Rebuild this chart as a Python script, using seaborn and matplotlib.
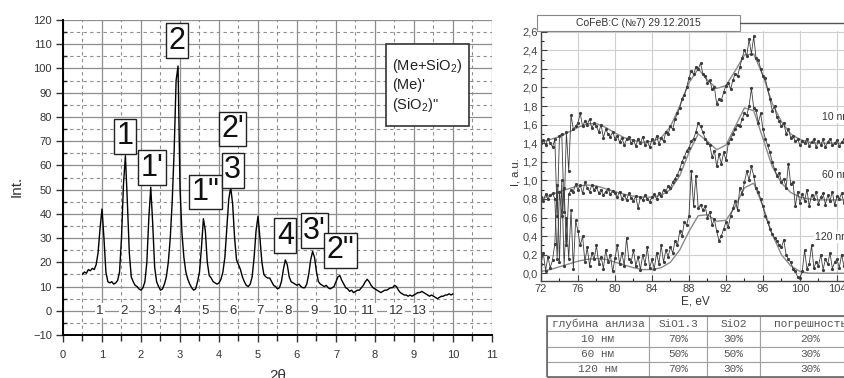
import numpy as np
import seaborn as sns
import matplotlib.pyplot as plt
from matplotlib.patches import Rectangle
from matplotlib.lines import Line2D
from matplotlib.ticker import MultipleLocator, FuncFormatter

# ---------------- left panel: diffraction pattern (2theta step 0.05, 0.50 .. 10.00)
two_theta = np.round(np.arange(0.50, 10.001, 0.05), 2)
intensity = [
    15, 16, 15.5, 17, 16.5, 17.5, 17, 19, 24, 34,
    42, 30, 16, 12, 11.5, 12, 11, 11.5, 12.5, 16,
    30, 52, 64, 45, 24, 14, 12, 10.5, 10, 9,
    8.5, 9.5, 12, 20, 38, 51, 36, 18, 12, 10,
    8.5, 9, 11, 14, 20, 30, 45, 66, 95, 101,
    51, 32, 22, 16, 13, 11, 9.5, 8.5, 9, 12,
    16, 26, 38, 33, 20, 14.5, 13.5, 12, 11.5, 11,
    11.5, 13, 16, 22, 34, 46, 51, 44, 30, 21,
    19, 17, 14, 12, 10.5, 10, 11, 14, 22, 33,
    39, 30, 20, 15, 14, 13.5, 13.5, 12, 10.5, 10,
    9, 9.5, 12, 17, 21, 19, 14, 12, 11.5, 11,
    10.5, 11, 10, 9.5, 9.5, 11, 15, 21, 24.5, 22,
    16, 12, 11, 10.5, 10, 10.5, 9.5, 9, 9.5, 10,
    12, 14, 14.5, 12.5, 11, 9.5, 9, 8, 8.5, 7.5,
    8, 8.5, 8.5, 9.5, 10.5, 12, 13, 12, 10.5, 9.5,
    9, 8.5, 8, 7.5, 8, 8.5, 8.5, 9, 9.5, 9.5,
    10.5, 10, 8.5, 7.5, 7, 6.5, 6.5, 6, 6.5, 6,
    6.5, 7, 7.5, 7.5, 8, 7.5, 7, 6.5, 6, 6.5,
    6, 5.5, 5, 5.5, 6, 6, 6.5, 6.5, 7, 6.5,
    7,
]

peak_num_lbl = [str(i) for i in range(1, 14)]
peak_num_x = [0.95, 1.56, 2.26, 2.92, 3.64, 4.36, 5.05, 5.77, 6.44, 7.10, 7.82, 8.54, 9.15]

tag_text = ["1", "1'", "2", '1"', "2'", "3", "4", "3'", '2"']
tag_x = [1.59, 2.29, 2.92, 3.65, 4.35, 4.35, 5.70, 6.45, 7.12]
tag_y = [72, 59, 111.5, 49, 75, 58, 31, 33, 25]

legend_lines = ["(Me+SiO$_2$)", "(Me)'", '(SiO$_2$)"']

# ---------------- right panel: spectra (E step 0.25 eV, 72 .. 106)
energy = np.round(np.arange(72.0, 106.001, 0.25), 2)
i_10nm = [
    1.40, 1.43, 1.38, 1.45, 1.40, 1.36, 1.44, 0.62,
    1.48, 1.50, 0.66, 1.52, 1.10, 1.70, 1.55, 1.58,
    1.62, 1.72, 1.58, 1.64, 1.60, 1.66, 1.56, 1.62,
    1.58, 1.52, 1.60, 1.46, 1.55, 1.50, 1.47, 1.52,
    1.45, 1.48, 1.41, 1.46, 1.38, 1.44, 1.47, 1.40,
    1.43, 1.37, 1.45, 1.40, 1.47, 1.38, 1.42, 1.36,
    1.44, 1.40, 1.48, 1.39, 1.46, 1.42, 1.52, 1.50,
    1.58, 1.55, 1.66, 1.72, 1.78, 1.88, 1.92, 2.00,
    2.10, 2.18, 2.14, 2.22, 2.20, 2.26, 2.15, 2.12,
    2.05, 2.08, 1.98, 2.00, 1.82, 1.88, 1.86, 1.95,
    2.02, 2.05, 1.98, 2.08, 2.15, 2.12, 2.22, 2.32,
    2.40, 2.34, 2.52, 2.36, 2.55, 2.32, 2.30, 2.20,
    2.12, 2.10, 1.98, 1.88, 1.75, 1.80, 1.68, 1.64,
    1.58, 1.62, 1.50, 1.55, 1.46, 1.48, 1.42, 1.44,
    1.38, 1.42, 1.40, 1.45, 1.37, 1.41, 1.44, 1.36,
    1.42, 1.38, 1.44, 1.36, 1.41, 1.45, 1.38, 1.40,
    1.43, 1.37, 1.41, 1.44, 1.39, 1.42, 1.38, 1.41,
    1.40,
]
i_60nm = [
    0.82, 0.78, 0.85, 0.80, 0.84, 0.86, 0.80, 0.15,
    0.88, 0.62, 0.92, 0.30, 0.85, 0.90, 0.88, 0.96,
    0.90, 0.95, 0.86, 0.98, 0.92, 0.88, 0.95, 0.90,
    0.93, 0.86, 0.90, 0.84, 0.88, 0.91, 0.85, 0.89,
    0.86, 0.82, 0.88, 0.80, 0.84, 0.79, 0.86, 0.81,
    0.78, 0.83, 0.70, 0.82, 0.79, 0.84, 0.80, 0.77,
    0.82, 0.85, 0.80, 0.86, 0.83, 0.90, 0.88, 0.94,
    0.92, 0.98, 1.02, 1.06, 1.12, 1.20, 1.25, 1.32,
    1.35, 1.42, 1.45, 1.52, 1.62, 1.58, 1.52, 1.45,
    1.40, 1.38, 1.25, 1.32, 1.15, 1.28, 1.18, 1.30,
    1.22, 1.40, 1.45, 1.50, 1.55, 1.60, 1.58, 1.66,
    1.72, 1.70, 1.80, 1.99, 1.78, 1.76, 1.62, 1.72,
    1.55, 1.45, 1.38, 1.30, 1.20, 1.12, 1.05, 1.08,
    0.98, 1.02, 0.92, 1.18, 0.96, 0.98, 0.72, 0.88,
    0.76, 0.85, 0.78, 0.90, 0.72, 0.84, 0.80, 0.88,
    0.75, 0.82, 0.86, 0.74, 0.84, 0.78, 0.88, 0.73,
    0.83, 0.80, 0.86, 0.76, 0.82, 0.78, 0.84, 0.79,
    0.80,
]
i_120nm = [
    0.10, 0.22, 0.03, 0.18, 0.06, 0.14, 0.32, 0.95,
    0.12, 1.00, 0.08, 0.60, 0.15, 0.68, 0.05, 0.57,
    0.45, 0.30, 0.40, 0.12, 0.28, 0.08, 0.22, 0.15,
    0.30, 0.10, 0.18, 0.05, 0.25, 0.12, 0.20, 0.02,
    0.16, 0.30, 0.10, 0.22, 0.08, 0.38, 0.15, 0.12,
    0.25, 0.08, 0.18, 0.04, 0.20, 0.10, 0.28, 0.06,
    0.15, 0.05, 0.22, 0.10, 0.30, 0.12, 0.25, 0.18,
    0.28, 0.22, 0.35, 0.30, 0.45, 0.40, 0.55, 0.52,
    0.62, 1.10, 0.72, 1.05, 0.70, 0.74, 0.68, 0.72,
    0.60, 0.66, 0.52, 0.58, 0.45, 0.35, 0.40, 0.48,
    0.55, 0.50, 0.62, 0.70, 0.78, 0.68, 0.92, 0.85,
    0.98, 1.10, 1.00, 1.15, 1.05, 0.92, 0.88, 0.80,
    0.72, 0.62, 0.55, 0.48, 0.42, 0.38, 0.35, 0.30,
    0.28, 0.36, 0.20, 0.15, 0.12, 0.05, 0.02, -0.04,
    -0.05, 0.02, 0.25, 0.05, 0.10, 0.30, 0.06, 0.12,
    0.08, 0.20, 0.04, 0.15, 0.10, 0.22, 0.05, 0.12,
    0.15, 0.06, 0.20, 0.08, 0.12, 0.18, 0.05, 0.10,
    0.08,
]

# fitted envelopes, 1 eV step 72 .. 106
fit_e = np.arange(72, 107, 1)
fit_10nm = [1.41, 1.44, 1.47, 1.52, 1.57, 1.61, 1.61, 1.57, 1.51, 1.46, 1.43, 1.41,
            1.42, 1.46, 1.58, 1.80, 2.05, 2.20, 2.08, 1.99, 2.02, 2.18, 2.35, 2.36,
            2.13, 1.83, 1.63, 1.50, 1.44, 1.41, 1.40, 1.40, 1.40, 1.40, 1.40]
fit_60nm = [0.80, 0.84, 0.88, 0.91, 0.94, 0.95, 0.94, 0.91, 0.88, 0.85, 0.83, 0.82,
            0.82, 0.84, 0.90, 1.05, 1.30, 1.50, 1.42, 1.33, 1.38, 1.58, 1.78, 1.75,
            1.45, 1.15, 0.97, 0.87, 0.82, 0.80, 0.79, 0.79, 0.79, 0.79, 0.79]
fit_120nm = [0.02, 0.04, 0.07, 0.10, 0.13, 0.15, 0.16, 0.15, 0.12, 0.09, 0.06, 0.04,
             0.04, 0.06, 0.12, 0.25, 0.45, 0.62, 0.63, 0.56, 0.57, 0.72, 0.92, 0.97,
             0.72, 0.42, 0.20, 0.08, 0.02, 0.00, 0.00, 0.00, 0.00, 0.00, 0.00]

series_lbl = ["10 nm", "60 nm", "120 nm"]
series_lbl_x = [102.4, 102.4, 101.6]
series_lbl_y = [1.68, 1.06, 0.39]

table_head = ["глубина анлиза", "SiO1.3", "SiO2", "погрешность"]
table_rows = [
    ["10 нм", "70%", "30%", "20%"],
    ["60 нм", "50%", "50%", "30%"],
    ["120 нм", "70%", "30%", "30%"],
]

# ---------------- style
sns.set_theme(style="white")
plt.rcParams["font.family"] = ["Liberation Sans", "DejaVu Sans"]
plt.rcParams["mathtext.fontset"] = "custom"
plt.rcParams["mathtext.rm"] = "Liberation Sans"
plt.rcParams["mathtext.default"] = "regular"

W, H = 844, 378
fig = plt.figure(figsize=(W / 100, H / 100), dpi=100)
fig.patch.set_facecolor("white")


def fx(px):
    return px / W


def fy(py):
    return 1 - py / H


# ================= left chart
axL = fig.add_axes([fx(63), fy(335), fx(492 - 63), (335 - 20) / H])
axL.set_facecolor("white")
axL.set_xlim(0, 11)
axL.set_ylim(-10, 120)
axL.xaxis.set_major_locator(MultipleLocator(1))
axL.xaxis.set_minor_locator(MultipleLocator(0.5))
axL.yaxis.set_major_locator(MultipleLocator(10))
axL.yaxis.set_minor_locator(MultipleLocator(5))
axL.set_axisbelow(True)
axL.grid(which="major", color="#8e8e8e", linewidth=0.9, linestyle="-")
axL.grid(which="minor", color="#8e8e8e", linewidth=0.8, linestyle=(0, (3, 3)))
for s in ["top", "right"]:
    axL.spines[s].set_visible(False)
for s in ["left", "bottom"]:
    axL.spines[s].set_color("black")
    axL.spines[s].set_linewidth(1.4)
axL.tick_params(axis="x", which="major", direction="out", length=5, width=1, pad=6,
                labelsize=8, colors="#333333", bottom=True)
axL.tick_params(axis="x", which="minor", direction="out", length=4, width=1, bottom=True)
axL.tick_params(axis="y", which="major", direction="out", length=5, width=1, pad=3,
                labelsize=8, colors="#333333", left=True)
axL.tick_params(axis="y", which="minor", direction="in", length=3, width=1, left=True)

sns.lineplot(x=two_theta, y=intensity, ax=axL, color="black", linewidth=1.0,
             estimator=None)
axL.set_xlabel("")
axL.set_ylabel("")

for t, x in zip(peak_num_lbl, peak_num_x):
    axL.text(x, 0, t, ha="center", va="center", fontsize=9.5, color="#333333",
             bbox=dict(boxstyle="square,pad=0.12", fc="white", ec="none"), zorder=4)

for t, x, y in zip(tag_text, tag_x, tag_y):
    axL.text(x, y, t, ha="center", va="center", fontsize=22,
             family=["Liberation Sans Narrow", "Liberation Sans", "DejaVu Sans"],
             color="#111111", zorder=5,
             bbox=dict(boxstyle="square,pad=0.08", fc="white", ec="#222222", lw=1.0))

axL.add_patch(Rectangle((8.27, 76.1), 2.13, 34.1, fc="white", ec="#333333",
                        lw=1.2, zorder=5))
for k, line in enumerate(legend_lines):
    axL.text(8.43, 101.2 - 8.2 * k, line, ha="left", va="center", fontsize=10.5,
             color="#222222", zorder=6)

fig.text(fx(17), fy(186), "Int.", rotation=90, ha="center", va="center",
         fontsize=11, color="#333333")
fig.text(fx(278), fy(369), "2θ", ha="center", va="top", fontsize=11, color="#333333")

# ================= right chart
e0, e1 = 71.95, 108.0
axR = fig.add_axes([fx(540.5), fy(281), fx((e1 - e0) * 9.25), (281 - 30.5) / H])
axR.set_facecolor("white")
axR.set_xlim(e0, e1)
axR.set_ylim(-0.083, 2.613)
axR.xaxis.set_major_locator(MultipleLocator(4))
axR.xaxis.set_minor_locator(MultipleLocator(2))
axR.yaxis.set_major_locator(MultipleLocator(0.2))
axR.yaxis.set_minor_locator(MultipleLocator(0.1))
axR.yaxis.set_major_formatter(FuncFormatter(lambda v, p: f"{v:.1f}".replace(".", ",").replace("-0,0", "0,0")))
axR.set_axisbelow(True)
axR.grid(which="major", color="#cfcfcf", linewidth=0.8)
for s in ["top", "right"]:
    axR.spines[s].set_visible(False)
for s in ["left", "bottom"]:
    axR.spines[s].set_color("#444444")
    axR.spines[s].set_linewidth(1.0)
axR.tick_params(axis="both", which="major", direction="in", length=4, width=0.8,
                labelsize=8, colors="#444444", left=True, bottom=True)
axR.tick_params(axis="both", which="minor", direction="in", length=2, width=0.8,
                left=True, bottom=True)
axR.tick_params(axis="x", pad=2.5)
axR.tick_params(axis="y", pad=2)

for e_fit in [fit_10nm, fit_60nm, fit_120nm]:
    sns.lineplot(x=fit_e, y=e_fit, ax=axR, color="#8a8a8a", linewidth=1.0,
                 estimator=None)
for s_data in [i_10nm, i_60nm, i_120nm]:
    sns.lineplot(x=energy, y=s_data, ax=axR, color="#3c3c3c", linewidth=0.6,
                 marker="o", markersize=2.3, markeredgewidth=0, estimator=None)
axR.set_xlabel("")
axR.set_ylabel("")

for t, x, y in zip(series_lbl, series_lbl_x, series_lbl_y):
    axR.text(x, y, t, ha="left", va="center", fontsize=7.5, color="#333333",
             bbox=dict(boxstyle="square,pad=0.1", fc="white", ec="none"))

fig.text(fx(515), fy(172), "I, a.u.", rotation=90, ha="center", va="center",
         fontsize=8, color="#333333")
fig.text(fx(695), fy(302), "E, eV", ha="center", va="center", fontsize=8.5,
         color="#333333")

# title box with frame line
fig.add_artist(Line2D([fx(740), 1.0], [fy(23), fy(23)], color="#555555", lw=1.0))
fig.add_artist(Rectangle((fx(537), fy(31)), fx(203), 16 / H, transform=fig.transFigure,
                         fc="white", ec="#888888", lw=0.8))
fig.text(fx(638), fy(23), "CoFeB:C (№7) 29.12.2015", ha="center", va="center",
         fontsize=7.5, color="#333333")

# table
axT = fig.add_axes([fx(547), fy(377), fx(313), 61 / H])
axT.axis("off")
tbl = axT.table(cellText=table_rows, colLabels=table_head, cellLoc="center",
                colWidths=[102 / 313, 58 / 313, 53 / 313, 100 / 313], bbox=[0, 0, 1, 1])
tbl.auto_set_font_size(False)
for (r, c), cell in tbl.get_celld().items():
    cell.set_edgecolor("#a0a0a0")
    cell.set_linewidth(0.8)
    cell.set_facecolor("white")
    cell.get_text().set_fontsize(8)
    cell.get_text().set_color("#555555")
    cell.get_text().set_fontfamily(["Liberation Mono", "DejaVu Sans Mono"])
axT.add_patch(Rectangle((0, 0), 1, 1, transform=axT.transAxes, fill=False,
                        ec="#666666", lw=1.2, clip_on=False))

fig.savefig("out.png", dpi=100)
